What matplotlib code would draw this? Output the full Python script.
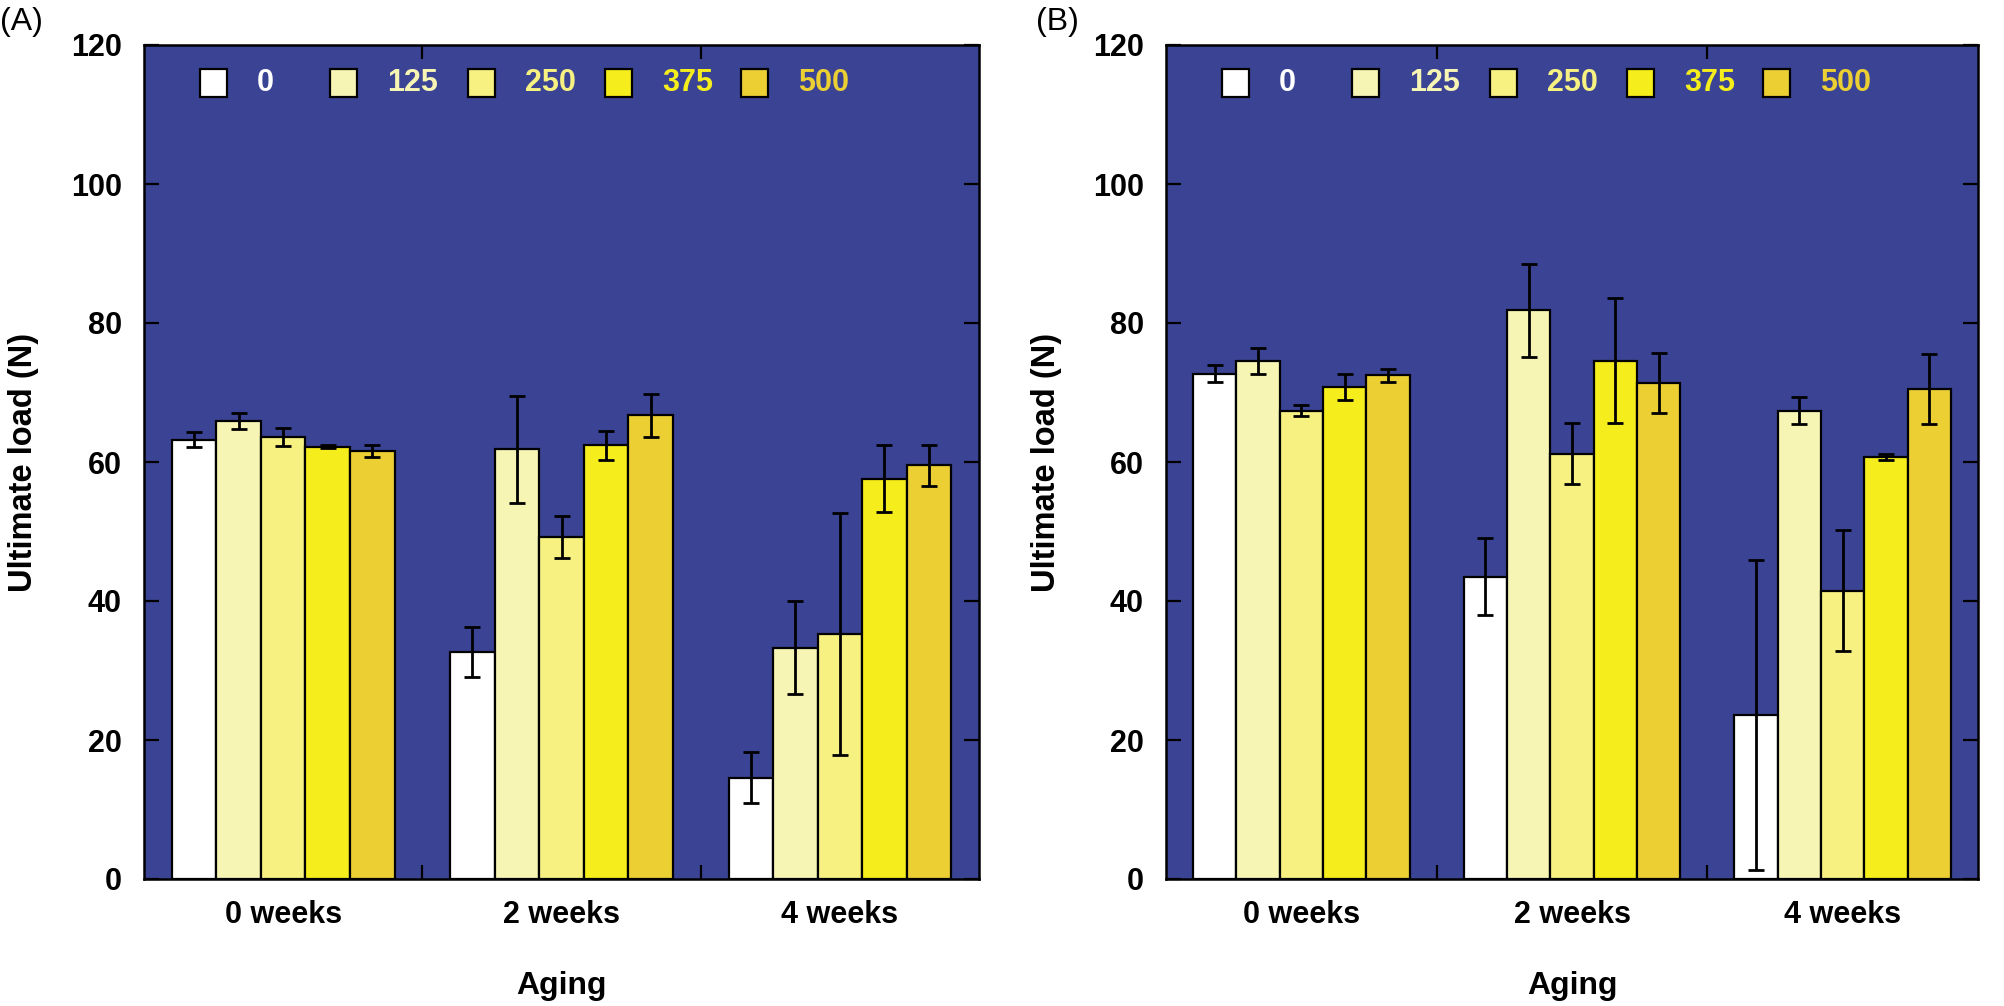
import matplotlib
matplotlib.use('Agg')
import matplotlib.pyplot as plt
import numpy as np
from matplotlib.patches import Rectangle

plt.rcParams['font.family'] = ['Liberation Sans', 'DejaVu Sans']

groups = ['0 weeks', '2 weeks', '4 weeks']
doses = ['0', '125', '250', '375', '500']
colors = ['#FFFFFF', '#F7F5B4', '#F7F182', '#F5EE1C', '#EBCF33']
bg_color = '#3B4494'

# Panel A: rows = dose, columns = aging group
a_mean = [[63.2, 32.7, 14.6],
          [65.9, 61.8, 33.3],
          [63.6, 49.2, 35.3],
          [62.2, 62.4, 57.6],
          [61.6, 66.7, 59.5]]
a_err = [[1.1, 3.6, 3.7],
         [1.15, 7.75, 6.7],
         [1.25, 3.0, 17.4],
         [0.2, 2.05, 4.85],
         [0.85, 3.1, 3.0]]

# Panel B
b_mean = [[72.7, 43.5, 23.6],
          [74.5, 81.8, 67.4],
          [67.4, 61.2, 41.5],
          [70.8, 74.6, 60.7],
          [72.5, 71.4, 70.5]]
b_err = [[1.2, 5.55, 22.3],
         [1.85, 6.7, 2.0],
         [0.75, 4.4, 8.65],
         [1.9, 9.05, 0.4],
         [0.95, 4.3, 5.1]]

yticks = [0, 20, 40, 60, 80, 100, 120]

W, H = 2004, 1006
fig = plt.figure(figsize=(W / 100, H / 100), dpi=100)

ax_top_px, ax_bot_px = 45, 879
panels = [
    ('(A)', 144, 979, a_mean, a_err, 0),
    ('(B)', 1166, 1978, b_mean, b_err, 1036),
]

bar_w = 0.16
leg_off_px = [56, 186, 324, 461, 597]
leg_txt_px = 57
leg_sq_px = 27

for label, l_px, r_px, mean, err, lab_x in panels:
    ax = fig.add_axes([l_px / W, 1 - ax_bot_px / H, (r_px - l_px) / W,
                       (ax_bot_px - ax_top_px) / H])
    axw = r_px - l_px
    axh = ax_bot_px - ax_top_px
    ax.set_facecolor(bg_color)
    x = np.arange(len(groups))
    for i, d in enumerate(doses):
        xs = x + (i - 2) * bar_w
        ax.bar(xs, mean[i], width=bar_w, color=colors[i], edgecolor='black',
               linewidth=1.6, zorder=2)
        ax.errorbar(xs, mean[i], yerr=err[i], fmt='none', ecolor='black',
                    elinewidth=2.0, capsize=6, capthick=2.0, zorder=3)
    ax.set_xlim(-0.5, 2.5)
    ax.set_ylim(0, 120)
    ax.set_yticks(yticks)
    ax.set_yticklabels([str(v) for v in yticks], fontsize=22, fontweight='bold')
    ax.set_xticks(x)
    ax.set_xticklabels(groups, fontsize=22, fontweight='bold')
    ax.set_xticks([0.5, 1.5], minor=True)
    ax.tick_params(axis='x', which='major', length=0, pad=15)
    ax.tick_params(axis='x', which='minor', direction='in', length=10,
                   width=1.6, top=True, bottom=True)
    ax.tick_params(axis='y', which='major', direction='in', length=11,
                   width=1.6, left=True, right=True, pad=16)
    for s in ax.spines.values():
        s.set_linewidth(1.8)
        s.set_color('black')
    # legend
    yc = 1 - 38 / axh
    for i, d in enumerate(doses):
        x0 = leg_off_px[i] / axw
        ax.add_patch(Rectangle((x0, yc - leg_sq_px / 2 / axh), leg_sq_px / axw,
                               leg_sq_px / axh, transform=ax.transAxes,
                               facecolor=colors[i], edgecolor='black',
                               linewidth=1.6, zorder=5))
        ax.text(x0 + leg_txt_px / axw, yc, d, transform=ax.transAxes,
                ha='left', va='center', fontsize=22, fontweight='bold',
                color=colors[i], zorder=5)
    ax.text(0.5, -(986 - ax_bot_px) / axh, 'Aging', transform=ax.transAxes,
            ha='center', va='center', fontsize=23, fontweight='bold')
    ax.text(-120 / axw, 0.5, 'Ultimate load (N)', transform=ax.transAxes,
            ha='center', va='center', rotation=90, fontsize=23.5,
            fontweight='bold')
    fig.text(lab_x / W, 1 - 22 / H, label, ha='left', va='center', fontsize=23)

fig.savefig('out.png', dpi=100)
